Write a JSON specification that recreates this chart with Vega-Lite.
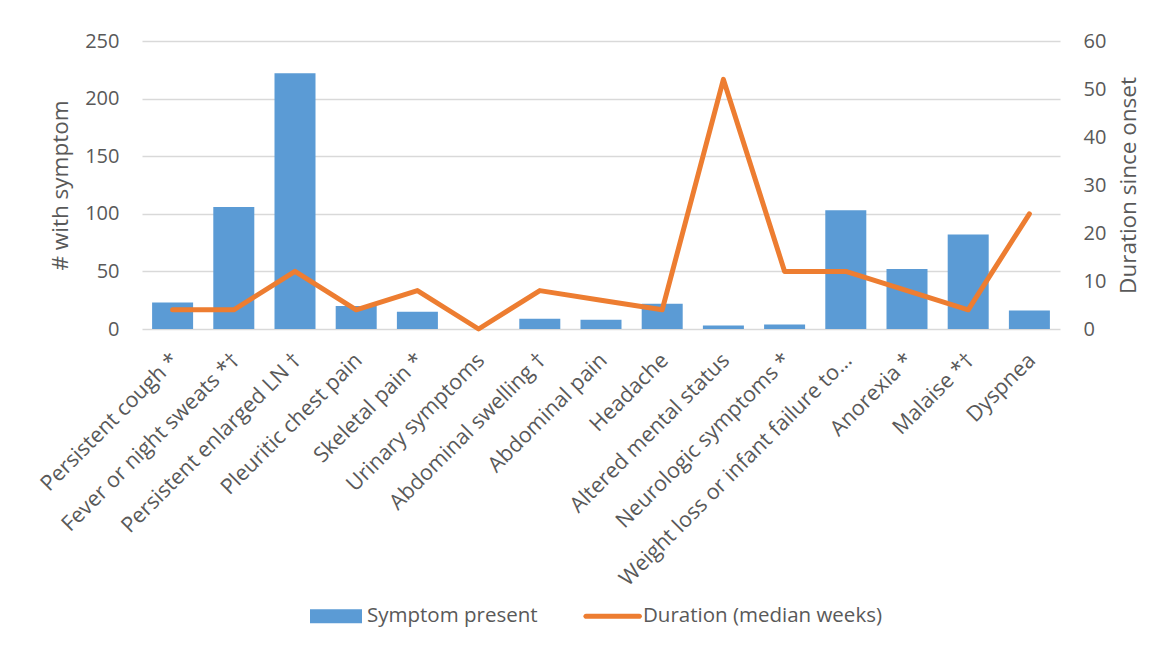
{
  "$schema": "https://vega.github.io/schema/vega-lite/v6.json",
  "autosize": {"type": "none"},
  "width": 918,
  "height": 288,
  "padding": {"left": 142, "top": 41, "right": 108, "bottom": 317},
  "background": "white",
  "data": {"values": [
    {"cat": "Persistent cough *", "n": 23, "dur": 4},
    {"cat": "Fever or night sweats *†", "n": 106, "dur": 4},
    {"cat": "Persistent enlarged LN †", "n": 222, "dur": 12},
    {"cat": "Pleuritic chest pain", "n": 20, "dur": 4},
    {"cat": "Skeletal pain *", "n": 15, "dur": 8},
    {"cat": "Urinary symptoms", "n": 0, "dur": 0},
    {"cat": "Abdominal swelling †", "n": 9, "dur": 8},
    {"cat": "Abdominal pain", "n": 8, "dur": 6},
    {"cat": "Headache", "n": 22, "dur": 4},
    {"cat": "Altered mental status", "n": 3, "dur": 52},
    {"cat": "Neurologic symptoms *", "n": 4, "dur": 12},
    {"cat": "Weight loss or infant failure to…", "n": 103, "dur": 12},
    {"cat": "Anorexia *", "n": 52, "dur": 8},
    {"cat": "Malaise *†", "n": 82, "dur": 4},
    {"cat": "Dyspnea", "n": 16, "dur": 24}
  ]},
  "config": {
    "font": "Open Sans",
    "view": {"stroke": null},
    "axis": {"labelColor": "#595959", "titleColor": "#595959", "labelFont": "Open Sans", "titleFont": "Open Sans", "titleFontWeight": "normal", "domain": false, "ticks": false}
  },
  "encoding": {
    "x": {"field": "cat", "type": "nominal", "sort": null,
      "scale": {"paddingInner": 0.33, "paddingOuter": 0.165},
      "axis": {"title": null, "labelAngle": -45, "labelAlign": "right", "labelBaseline": "middle", "labelFontSize": 21.5, "labelPadding": 28, "labelOffset": 3, "labelLimit": 400, "grid": false}}
  },
  "layer": [
    {
      "mark": {"type": "bar", "color": "#5B9BD5"},
      "encoding": {
        "y": {"field": "n", "type": "quantitative", "scale": {"domain": [0, 250]},
          "axis": {"title": "# with symptom", "values": [0, 50, 100, 150, 200, 250], "labelFontSize": 20, "titleFontSize": 22.5, "labelPadding": 23, "titlePadding": 12, "grid": true, "gridColor": "#D9D9D9", "gridWidth": 1.5}},
        "color": {"datum": "Symptom present", "type": "nominal",
          "scale": {"domain": ["Symptom present", "Duration (median weeks)"], "range": ["#5B9BD5", "#ED7D31"]},
          "legend": {
            "title": null, "orient": "none", "legendX": 168, "legendY": 549, "direction": "horizontal",
            "labelFontSize": 20.5, "labelColor": "#595959", "labelFont": "Open Sans", "labelOffset": 5,
            "columnPadding": 45, "symbolSize": 2704, "labelLimit": 400,
            "encode": {"symbols": {"update": {
              "shape": {"signal": "datum.value === 'Symptom present' ? 'M-1,-0.27H1V0.27H-1Z' : 'M-1,-0.1A0.1,0.1 0 0 0 -1,0.1H1.05A0.1,0.1 0 0 0 1.05,-0.1Z'"},
              "fill": {"signal": "datum.value === 'Symptom present' ? '#5B9BD5' : '#ED7D31'"},
              "strokeWidth": {"value": 0},
              "opacity": {"value": 1}
            }}}
          }}
      }
    },
    {
      "mark": {"type": "line", "strokeWidth": 5, "strokeJoin": "round", "strokeCap": "round"},
      "encoding": {
        "y": {"field": "dur", "type": "quantitative", "scale": {"domain": [0, 60]},
          "axis": {"title": "Duration since onset", "orient": "right", "titleAngle": 270, "values": [0, 10, 20, 30, 40, 50, 60], "labelFontSize": 20, "titleFontSize": 22.5, "labelPadding": 23, "titlePadding": 35, "grid": false}},
        "color": {"datum": "Duration (median weeks)", "type": "nominal"}
      }
    }
  ],
  "resolve": {"scale": {"y": "independent"}}
}
